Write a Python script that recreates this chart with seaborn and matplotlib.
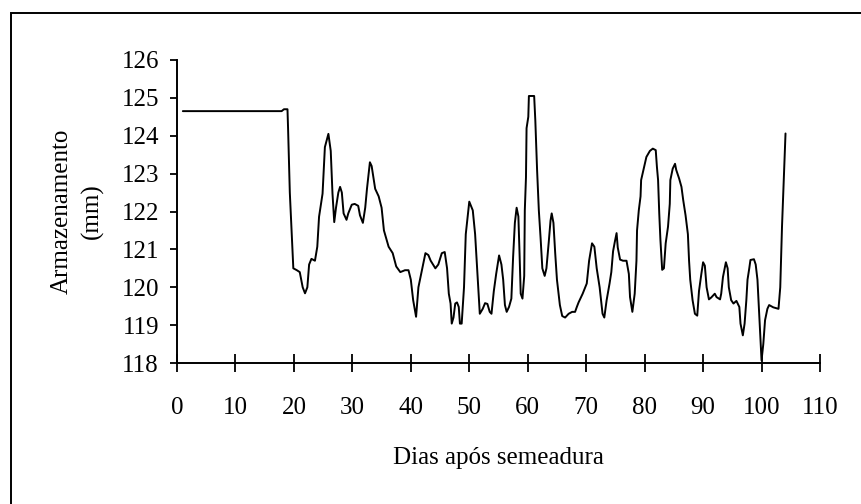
import matplotlib
matplotlib.use("Agg")
import matplotlib.pyplot as plt
import seaborn as sns
import pandas as pd
from matplotlib.patches import Rectangle

# dias apos semeadura e armazenamento (mm)
dias = [1.0, 17.9, 18.3, 18.9, 19.0, 19.3, 19.9, 20.5, 21.0, 21.5, 21.9, 22.3, 22.6, 23.0, 23.6,
        24.0, 24.3, 24.9, 25.3, 25.9, 26.3, 26.6, 26.9, 27.2, 27.6, 27.9, 28.2, 28.5, 29.0, 29.3,
        29.9, 30.4, 31.0, 31.3, 31.8, 32.2, 32.5, 33.0, 33.3, 33.9, 34.5, 35.0, 35.4, 36.2, 36.9,
        37.5, 38.2, 39.0, 39.6, 40.0, 40.4, 40.9, 41.3, 41.9, 42.5, 43.0, 43.4, 44.2, 44.7, 45.3,
        45.8, 46.2, 46.5, 46.8, 47.0, 47.3, 47.6, 47.9, 48.2, 48.4, 48.7, 49.1, 49.4, 50.0, 50.6,
        51.0, 51.3, 51.8, 52.3, 52.7, 53.1, 53.5, 53.8, 54.2, 54.6, 55.1, 55.5, 55.8, 56.1, 56.4,
        56.8, 57.2, 57.5, 57.8, 58.1, 58.4, 58.6, 58.8, 59.1, 59.4, 59.5, 59.7, 59.8, 60.1, 60.2,
        61.1, 61.3, 61.6, 61.9, 62.2, 62.5, 62.9, 63.2, 63.6, 63.9, 64.1, 64.4, 64.7, 65.0, 65.5,
        65.9, 66.4, 67.0, 67.6, 68.1, 68.4, 68.7, 69.4, 70.1, 70.5, 71.0, 71.4, 71.8, 72.3, 72.8,
        73.1, 73.5, 74.0, 74.3, 74.6, 74.9, 75.2, 75.4, 75.8, 76.3, 76.9, 77.3, 77.5, 77.9, 78.3,
        78.6, 78.7, 79.0, 79.3, 79.4, 79.8, 80.3, 80.9, 81.4, 81.9, 82.1, 82.3, 82.5, 82.7, 83.0,
        83.3, 83.6, 84.0, 84.3, 84.4, 84.8, 85.2, 85.4, 85.9, 86.3, 86.6, 87.0, 87.4, 87.6, 87.8,
        88.2, 88.6, 89.0, 89.3, 89.7, 90.0, 90.3, 90.6, 91.0, 91.4, 92.0, 92.3, 92.9, 93.1, 93.4,
        93.9, 94.2, 94.4, 94.8, 95.2, 95.7, 96.2, 96.4, 96.8, 97.1, 97.4, 97.6, 97.9, 98.1, 98.7,
        99.0, 99.3, 99.6, 100.0, 100.3, 100.6, 101.0, 101.3, 102.0, 102.9, 103.2, 103.5, 103.8, 104.1]
armazenamento = [124.65, 124.65, 124.7, 124.7, 124.2, 122.5, 120.5, 120.45, 120.4, 120.0, 119.84, 120.0, 120.6, 120.75, 120.7,
                 121.07, 121.86, 122.47, 123.7, 124.05, 123.6, 122.47, 121.72, 122.1, 122.5, 122.65, 122.5, 121.95, 121.78, 121.95,
                 122.18, 122.2, 122.15, 121.9, 121.7, 122.1, 122.6, 123.3, 123.2, 122.6, 122.4, 122.1, 121.5, 121.07, 120.9,
                 120.55, 120.4, 120.45, 120.45, 120.2, 119.66, 119.22, 120.0, 120.45, 120.9, 120.85, 120.7, 120.5, 120.6, 120.9,
                 120.93, 120.5, 119.83, 119.57, 119.04, 119.2, 119.57, 119.6, 119.48, 119.04, 119.04, 120.0, 121.4, 122.26, 122.03,
                 121.4, 120.6, 119.3, 119.43, 119.58, 119.56, 119.35, 119.3, 119.9, 120.35, 120.84, 120.6, 120.2, 119.53, 119.35,
                 119.48, 119.7, 120.8, 121.7, 122.1, 121.87, 120.9, 119.83, 119.7, 120.3, 122.03, 122.9, 124.2, 124.5, 125.05,
                 125.05, 124.4, 123.1, 122.03, 121.3, 120.5, 120.3, 120.5, 121.2, 121.76, 121.95, 121.7, 120.9, 120.2, 119.53,
                 119.24, 119.2, 119.3, 119.35, 119.35, 119.48, 119.6, 119.83, 120.1, 120.7, 121.16, 121.07, 120.5, 120.0, 119.3,
                 119.2, 119.66, 120.1, 120.4, 120.95, 121.2, 121.43, 121.05, 120.73, 120.7, 120.7, 120.35, 119.74, 119.35, 119.83,
                 120.7, 121.5, 122.03, 122.4, 122.83, 123.1, 123.44, 123.6, 123.66, 123.62, 123.18, 122.83, 121.95, 121.25, 120.46,
                 120.5, 121.16, 121.6, 122.2, 122.83, 123.13, 123.26, 123.1, 122.87, 122.65, 122.3, 121.9, 121.4, 120.7, 120.2,
                 119.66, 119.3, 119.25, 119.9, 120.35, 120.66, 120.57, 120.0, 119.68, 119.73, 119.83, 119.74, 119.68, 119.83, 120.27,
                 120.66, 120.5, 120.0, 119.66, 119.57, 119.64, 119.48, 119.04, 118.73, 119.04, 119.66, 120.2, 120.5, 120.72, 120.74,
                 120.6, 120.2, 119.3, 118.07, 118.5, 119.13, 119.43, 119.53, 119.47, 119.43, 120.0, 121.6, 122.83, 124.06]
xticks = list(range(0, 111, 10))
yticks = list(range(118, 127))

sns.set_style("ticks")
plt.rcParams['font.family'] = ['Liberation Serif', 'DejaVu Serif']

df = pd.DataFrame({"dia": dias, "arm": armazenamento})

fig = plt.figure(figsize=(8.62, 5.04), dpi=100)
ax = fig.add_axes([177 / 862, 1 - 363 / 504, 643 / 862, 303 / 504])
sns.lineplot(data=df, x="dia", y="arm", ax=ax, color="black", linewidth=1.4, estimator=None)

ax.set_xlim(0, 110)
ax.set_ylim(118, 126)
ax.set_xticks(xticks)
ax.set_yticks(yticks)
ax.spines['top'].set_visible(False)
ax.spines['right'].set_visible(False)
for s in ['left', 'bottom']:
    ax.spines[s].set_linewidth(1.4)
    ax.spines[s].set_color('black')
ax.tick_params(axis='x', direction='inout', length=13, width=1.3, pad=18, labelsize=18, colors='black')
ax.tick_params(axis='y', direction='out', length=5, width=1.3, pad=8, labelsize=18, colors='black')
ax.set_xlabel("Dias após semeadura", fontsize=18, labelpad=20, color='black')
ax.set_ylabel("Armazenamento\n(mm)", fontsize=18, labelpad=13, linespacing=1.4, color='black')

# moldura externa
fig.patches.append(Rectangle((11.5 / 862, -0.2), 2, 0.2 + (1 - 13.3 / 504), transform=fig.transFigure,
                             fill=False, edgecolor='black', linewidth=1.4))

plt.savefig('out.png', dpi=100)
